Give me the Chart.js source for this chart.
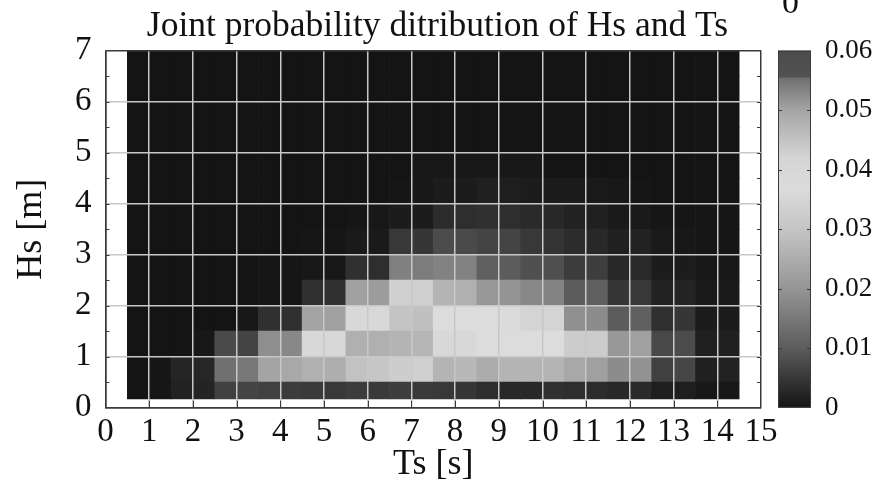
<!DOCTYPE html>
<html>
<head>
<meta charset="utf-8">
<script src="https://cdn.jsdelivr.net/npm/chart.js@4.4.0/dist/chart.umd.min.js"></script>
<style>
  html, body { margin: 0; padding: 0; background: #fff; }
  #wrap { width: 875px; height: 488px; }
</style>
</head>
<body>
<div id="wrap"><canvas id="jpd"></canvas></div>
<script>
// Ts bin centres [s] (0.5 s wide bins, 0.5 .. 14.5)
const tsCenters = [0.75, 1.25, 1.75, 2.25, 2.75, 3.25, 3.75, 4.25, 4.75, 5.25, 5.75, 6.25, 6.75, 7.25,
  7.75, 8.25, 8.75, 9.25, 9.75, 10.25, 10.75, 11.25, 11.75, 12.25, 12.75, 13.25, 13.75, 14.25];
// Hs bin edges [m]
const hsEdges = [0.17, 0.5, 1, 1.5, 2, 2.5, 3, 3.5, 4, 4.5, 5, 5.5, 6, 6.5, 7];

// probability per cell, one array per Hs bin (bottom to top)
const pHs0 = [0, 0.0003, 0.0019, 0.0022, 0.0061, 0.0067, 0.0061, 0.0056, 0.0053, 0.005, 0.0056, 0.0053, 0.0058, 0.0053,
  0.005, 0.0047, 0.0036, 0.0028, 0.0028, 0.0039, 0.0036, 0.0033, 0.0028, 0.0031, 0.0014, 0.0014, 0.0006, 0.0006];
const pHs1 = [0, 0.0003, 0.0024, 0.0025, 0.0135, 0.0149, 0.0231, 0.024, 0.0256, 0.0252, 0.0294, 0.0304, 0.0324, 0.0333,
  0.0265, 0.0273, 0.0248, 0.0265, 0.0265, 0.0265, 0.024, 0.0223, 0.0184, 0.0195, 0.0061, 0.0069, 0.0017, 0.0019];
const pHs2 = [0, 0, 0, 0.0006, 0.0075, 0.0067, 0.0188, 0.0177, 0.0358, 0.0358, 0.0256, 0.0256, 0.0265, 0.0269,
  0.0358, 0.0358, 0.037, 0.037, 0.037, 0.037, 0.0321, 0.0321, 0.0206, 0.0223, 0.0072, 0.0078, 0.0017, 0.0017];
const pHs3 = [0, 0, 0, 0, 0, 0.0006, 0.0039, 0.0039, 0.0231, 0.0223, 0.0358, 0.0358, 0.0298, 0.029,
  0.037, 0.037, 0.037, 0.0367, 0.0346, 0.0346, 0.0191, 0.0184, 0.01, 0.0107, 0.0039, 0.0047, 0.0011, 0.0011];
const pHs4 = [0, 0, 0, 0, 0, 0, 0.0003, 0.0003, 0.0039, 0.0039, 0.0223, 0.0215, 0.0333, 0.0333,
  0.0265, 0.0256, 0.0206, 0.0198, 0.0177, 0.017, 0.01, 0.0107, 0.0047, 0.005, 0.0019, 0.0022, 0.0008, 0.0008];
const pHs5 = [0, 0, 0, 0, 0, 0, 0.0003, 0.0003, 0.0006, 0.0006, 0.0039, 0.0036, 0.0163, 0.0156,
  0.0167, 0.0167, 0.0107, 0.01, 0.0083, 0.0083, 0.0056, 0.0058, 0.0028, 0.0031, 0.0011, 0.0011, 0.0006, 0.0006];
const pHs6 = [0, 0, 0, 0, 0, 0, 0, 0, 0.0003, 0.0003, 0.0008, 0.0008, 0.005, 0.0047,
  0.0078, 0.0075, 0.0067, 0.0067, 0.005, 0.0044, 0.0033, 0.0028, 0.0017, 0.0019, 0.0008, 0.0006, 0.0003, 0.0003];
const pHs7 = [0, 0, 0, 0, 0, 0, 0, 0, 0, 0, 0.0003, 0.0006, 0.0011, 0.0011,
  0.0033, 0.0036, 0.0039, 0.0036, 0.0031, 0.0028, 0.0019, 0.0017, 0.0008, 0.0008, 0.0003, 0.0003, 0.0003, 0.0003];
const pHs8 = [0, 0, 0, 0, 0, 0, 0, 0, 0, 0, 0, 0, 0.0003, 0.0006,
  0.0011, 0.0011, 0.0017, 0.0014, 0.0011, 0.0011, 0.0011, 0.0008, 0.0006, 0.0003, 0, 0, 0, 0];
const pHs9 = [0, 0, 0, 0, 0, 0, 0, 0, 0, 0, 0, 0, 0, 0.0005,
  0.0006, 0.0006, 0.0006, 0.0006, 0.0005, 0, 0, 0, 0, 0, 0, 0, 0, 0];
const pHs10 = [0, 0, 0, 0, 0, 0, 0, 0, 0, 0, 0, 0, 0, 0, 0, 0, 0, 0, 0, 0, 0, 0, 0, 0, 0, 0, 0, 0];
const pHs11 = [0, 0, 0, 0, 0, 0, 0, 0, 0, 0, 0, 0, 0, 0, 0, 0, 0, 0, 0, 0, 0, 0, 0, 0, 0, 0, 0, 0];
const pHs12 = [0, 0, 0, 0, 0, 0, 0, 0, 0, 0, 0, 0, 0, 0, 0, 0, 0, 0, 0, 0, 0, 0, 0, 0, 0, 0, 0, 0];
const pHs13 = [0, 0, 0, 0, 0, 0, 0, 0, 0, 0, 0, 0, 0, 0, 0, 0, 0, 0, 0, 0, 0, 0, 0, 0, 0, 0, 0, 0];
const pRows = [pHs0, pHs1, pHs2, pHs3, pHs4, pHs5, pHs6, pHs7, pHs8, pHs9, pHs10, pHs11, pHs12, pHs13];

// colour bar range and ticks
const cbMax = 0.06;
const cbStep = 0.01;

// grey colormap (value -> grey level), as seen on the colour bar
const cmap = [[0, 20], [0.005, 56], [0.01, 92], [0.02, 149], [0.03, 197], [0.037, 220],
  [0.042, 212], [0.05, 165], [0.0553, 112], [0.0556, 82], [0.06, 76]];

function grayOf(v) {
  let g = cmap[cmap.length - 1][1];
  for (let i = 1; i < cmap.length; i++) {
    if (v <= cmap[i][0]) {
      const a = cmap[i - 1], b = cmap[i];
      g = a[1] + (b[1] - a[1]) * (v - a[0]) / (b[0] - a[0]);
      break;
    }
  }
  g = Math.round(g);
  return `rgb(${g},${g},${g})`;
}

const serif = "'Liberation Serif', 'Times New Roman', serif";
const gridLight = '#c8c8c8';
const frame = '#3a3a3a';

const datasets = pRows.map((row, i) => ({
  data: row.map((p, j) => ({ x: tsCenters[j], y: [hsEdges[i], hsEdges[i + 1]] })),
  backgroundColor: row.map(grayOf),
  borderWidth: 0,
  grouped: false,
  barPercentage: 1,
  categoryPercentage: 1
}));

// no extra room for the end labels, the frame sits where the reference has it
const noPad = s => { s.paddingTop = 0; s.paddingBottom = 0; s.paddingLeft = 0; s.paddingRight = 0; };

// colour bar + small inner tick marks
const extras = {
  id: 'extras',
  afterDraw(chart) {
    const { ctx, chartArea: ca, scales } = chart;
    const cb = scales.cb;
    const x0 = ca.right + 17, x1 = ca.right + 50;
    const yTop = cb.getPixelForValue(cbMax), yBot = cb.getPixelForValue(0);
    ctx.save();
    const grad = ctx.createLinearGradient(0, yBot, 0, yTop);
    cmap.forEach(([v]) => grad.addColorStop(v / cbMax, grayOf(v)));
    ctx.fillStyle = grad;
    ctx.fillRect(x0, yTop, x1 - x0, yBot - yTop);
    ctx.strokeStyle = frame;
    ctx.lineWidth = 1;
    ctx.strokeRect(x0 + 0.5, yTop + 0.5, x1 - x0 - 1, yBot - yTop - 1);
    ctx.beginPath();
    for (let v = cbStep; v < cbMax - 1e-9; v += cbStep) {
      const y = Math.round(cb.getPixelForValue(v)) + 0.5;
      ctx.moveTo(x0, y); ctx.lineTo(x0 + 4, y);
      ctx.moveTo(x1, y); ctx.lineTo(x1 - 4, y);
    }
    // inner ticks on the plot frame
    const sx = scales.x, sy = scales.y;
    sx.ticks.forEach(t => {
      if (t.value <= sx.min || t.value >= sx.max) return;
      const x = Math.round(sx.getPixelForValue(t.value)) + 0.5;
      ctx.moveTo(x, ca.bottom); ctx.lineTo(x, ca.bottom - 7);
    });
    sy.ticks.forEach(t => {
      [t.value, t.value + 0.5].forEach(v => {
        if (v <= sy.min || v >= sy.max) return;
        const y = Math.round(sy.getPixelForValue(v)) + 0.5;
        ctx.moveTo(ca.left, y); ctx.lineTo(ca.left + 4, y);
        ctx.moveTo(ca.right, y); ctx.lineTo(ca.right - 4, y);
      });
    });
    ctx.stroke();
    // stray zero above the colour bar
    ctx.fillStyle = '#111';
    ctx.font = `34px ${serif}`;
    ctx.textAlign = 'center';
    ctx.textBaseline = 'alphabetic';
    ctx.fillText('0', (x0 + x1) / 2 - 4, 13);
    ctx.restore();
  }
};

new Chart(document.getElementById('jpd'), {
  type: 'bar',
  data: { datasets },
  plugins: [extras],
  options: {
    responsive: true,
    maintainAspectRatio: false,
    animation: false,
    layout: { padding: 0 },
    plugins: {
      legend: { display: false },
      tooltip: { enabled: false },
      title: {
        display: true,
        text: 'Joint probability ditribution of Hs and Ts',
        color: '#111',
        font: { family: serif, size: 35.5, weight: 'normal' },
        padding: { top: 5, bottom: 3 }
      }
    },
    scales: {
      x: {
        type: 'linear',
        min: 0,
        max: 15,
        offset: false,
        afterFit: s => { noPad(s); s.height = 80.3; },
        grid: {
          offset: false,
          drawTicks: false,
          z: 1,
          color: c => (c.tick.value === 0 || c.tick.value === 15) ? frame : gridLight,
          lineWidth: 1.5
        },
        border: { display: true, color: frame, width: 1.5, z: 1 },
        ticks: {
          stepSize: 1,
          padding: 5,
          maxRotation: 0,
          autoSkip: false,
          color: '#111',
          font: { family: serif, size: 33 }
        },
        title: {
          display: true,
          text: 'Ts [s]',
          color: '#111',
          font: { family: serif, size: 36 },
          padding: { top: 0, bottom: 2 }
        }
      },
      y: {
        type: 'linear',
        min: 0,
        max: 7,
        afterFit: s => { noPad(s); s.width = 105.5; },
        grid: {
          drawTicks: false,
          z: 1,
          color: c => (c.tick.value === 0 || c.tick.value === 7) ? frame : gridLight,
          lineWidth: 1.5
        },
        border: { display: true, color: frame, width: 1.5, z: 1 },
        ticks: {
          stepSize: 1,
          padding: 14,
          color: '#111',
          font: { family: serif, size: 33 }
        },
        title: {
          display: true,
          text: 'Hs [m]',
          color: '#111',
          font: { family: serif, size: 36 },
          padding: { top: 10, bottom: 0 }
        }
      },
      cb: {
        type: 'linear',
        axis: 'y',
        position: 'right',
        min: 0,
        max: cbMax,
        afterFit: s => { noPad(s); s.width = 114; },
        grid: { display: false, drawTicks: false },
        border: { display: false },
        ticks: {
          stepSize: cbStep,
          padding: 64,
          color: '#111',
          font: { family: serif, size: 27 }
        }
      }
    }
  }
});
</script>
</body>
</html>
